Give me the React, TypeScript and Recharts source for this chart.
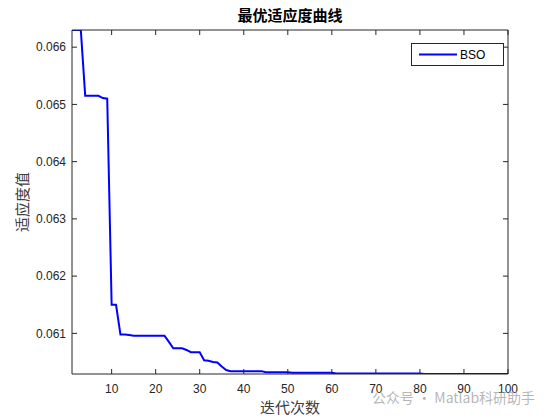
import React from 'react';
import { LineChart, Line, XAxis, YAxis } from 'recharts';

const iterations: number[] = Array.from({ length: 100 }, (_, i) => i + 1);

const fitness: number[] = [
  0.0663, 0.0663, 0.0663, 0.06515, 0.06515, 0.06515, 0.06515, 0.06511, 0.0651, 0.0615,
  0.0615, 0.06098, 0.06098, 0.06097, 0.06096, 0.06096, 0.06096, 0.06096, 0.06096, 0.06096,
  0.06096, 0.06096, 0.06085, 0.06074, 0.06074, 0.06074, 0.06071, 0.06067, 0.06067, 0.06067,
  0.06053, 0.06052, 0.0605, 0.06049, 0.06042, 0.06036, 0.06034, 0.06034, 0.06034, 0.06034,
  0.06034, 0.06034, 0.06034, 0.06034, 0.06032, 0.06032, 0.06032, 0.06032, 0.06032, 0.06032,
  0.06031, 0.06031, 0.06031, 0.06031, 0.06031, 0.06031, 0.06031, 0.06031, 0.06031, 0.06031,
  0.0603, 0.0603, 0.0603, 0.0603, 0.0603, 0.0603, 0.0603, 0.0603, 0.0603, 0.0603,
  0.0603, 0.0603, 0.0603, 0.0603, 0.0603, 0.0603, 0.0603, 0.0603, 0.0603, 0.0603,
  0.06029, 0.06029, 0.06029, 0.06029, 0.06029, 0.06029, 0.06029, 0.06029, 0.06029, 0.06029,
  0.06029, 0.06029, 0.06029, 0.06029, 0.06029, 0.06029, 0.06029, 0.06029, 0.06029, 0.06029,
];

const xTicks: number[] = [10, 20, 30, 40, 50, 60, 70, 80, 90, 100];
const yTicks: number[] = [0.061, 0.062, 0.063, 0.064, 0.065, 0.066];

const seriesName = 'BSO';
const titleText = '最优适应度曲线';
const xLabelText = '迭代次数';
const yLabelText = '适应度值';
const watermarkText = '公众号 · Matlab科研助手';

const data = iterations.map((it, i) => ({ iter: it, value: fitness[i] }));
const yMin = Math.min(...fitness);
const yMax = Math.max(...fitness);

const AXIS = '#262626';
const FONT = '"Liberation Sans", Arial, sans-serif';
const CJK = '"Noto Sans CJK SC", sans-serif';

const tickStyle = { fill: AXIS, fontSize: 12, fontFamily: FONT };

export default function App() {
  return (
    <div style={{ position: 'absolute', left: 0, top: 0, width: 560, height: 420, background: '#fff' }}>
      <LineChart
        width={560}
        height={420}
        data={data}
        margin={{ top: 29, right: 51, bottom: 0, left: 0 }}
      >
        <XAxis
          xAxisId="bottom"
          dataKey="iter"
          type="number"
          domain={[1, 100]}
          ticks={xTicks}
          orientation="bottom"
          height={46}
          tickSize={-5}
          tickMargin={15}
          tick={tickStyle}
          stroke={AXIS}
          axisLine={{ stroke: AXIS, strokeWidth: 1 }}
          tickLine={{ stroke: AXIS }}
          allowDataOverflow
        />
        <XAxis
          xAxisId="top"
          dataKey="iter"
          type="number"
          domain={[1, 100]}
          ticks={xTicks}
          orientation="top"
          height={1}
          tickSize={-5}
          tickMargin={0}
          tickFormatter={() => ''}
          stroke={AXIS}
          axisLine={{ stroke: AXIS, strokeWidth: 1 }}
          tickLine={{ stroke: AXIS }}
          allowDataOverflow
        />
        <YAxis
          yAxisId="left"
          type="number"
          domain={[yMin, yMax]}
          ticks={yTicks}
          orientation="left"
          width={72}
          tickSize={-5}
          tickMargin={11}
          tick={tickStyle}
          tickFormatter={(v: number) => v.toFixed(3)}
          stroke={AXIS}
          axisLine={{ stroke: AXIS, strokeWidth: 1 }}
          tickLine={{ stroke: AXIS }}
          allowDataOverflow
        />
        <YAxis
          yAxisId="right"
          type="number"
          domain={[yMin, yMax]}
          ticks={yTicks}
          orientation="right"
          width={1}
          tickSize={-5}
          tickMargin={0}
          tickFormatter={() => ''}
          stroke={AXIS}
          axisLine={{ stroke: AXIS, strokeWidth: 1 }}
          tickLine={{ stroke: AXIS }}
          allowDataOverflow
        />
        <Line
          xAxisId="bottom"
          yAxisId="left"
          type="linear"
          dataKey="value"
          name={seriesName}
          stroke="#0000ff"
          strokeWidth={2}
          dot={false}
          activeDot={false}
          isAnimationActive={false}
        />
      </LineChart>
      <div
        style={{
          position: 'absolute',
          left: 411,
          top: 43,
          width: 91,
          height: 21,
          border: `1px solid ${AXIS}`,
          background: '#fff',
          display: 'flex',
          alignItems: 'center',
        }}
      >
        <svg width={48} height={21} style={{ display: 'block' }}>
          <line x1={7} x2={45} y1={10.5} y2={10.5} stroke="#0000ff" strokeWidth={2} />
        </svg>
        <span style={{ fontFamily: FONT, fontSize: 12, color: '#000' }}>{seriesName}</span>
      </div>
      <div
        style={{
          position: 'absolute',
          left: 190,
          width: 200,
          top: 6,
          textAlign: 'center',
          fontFamily: CJK,
          fontWeight: 'bold',
          fontSize: 15,
          lineHeight: '18px',
          color: '#000',
        }}
      >
        {titleText}
      </div>
      <div
        style={{
          position: 'absolute',
          left: 190,
          width: 200,
          top: 398,
          textAlign: 'center',
          fontFamily: CJK,
          fontSize: 15,
          lineHeight: '18px',
          color: '#404040',
        }}
      >
        {xLabelText}
      </div>
      <div
        style={{
          position: 'absolute',
          left: 22 - 50,
          top: 202 - 9,
          width: 100,
          textAlign: 'center',
          fontFamily: CJK,
          fontSize: 15,
          lineHeight: '18px',
          color: '#404040',
          transform: 'rotate(-90deg)',
        }}
      >
        {yLabelText}
      </div>
      <div
        style={{
          position: 'absolute',
          left: 372,
          top: 388,
          fontFamily: CJK,
          fontSize: 14,
          lineHeight: '18px',
          color: 'rgba(150,150,150,0.7)',
          whiteSpace: 'nowrap',
        }}
      >
        {watermarkText}
      </div>
    </div>
  );
}
